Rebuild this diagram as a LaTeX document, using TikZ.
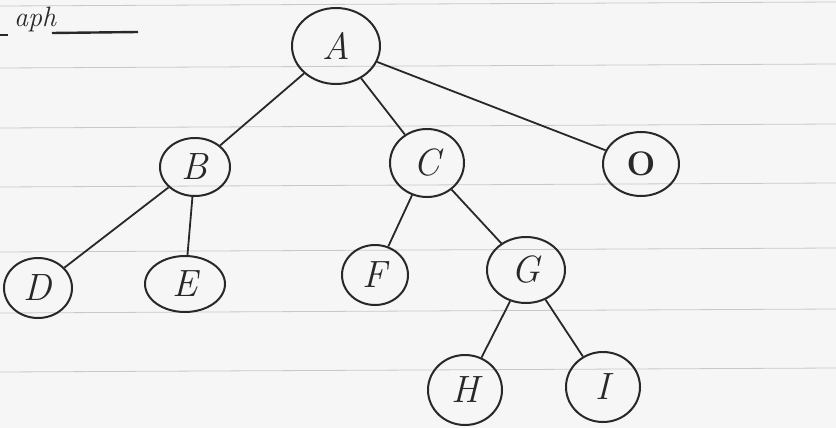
\documentclass[tikz,border=0pt]{standalone}
\usepackage{fontspec}
\usetikzlibrary{shapes.geometric}
\definecolor{paper}{RGB}{246,246,246}
\definecolor{rule}{RGB}{200,200,205}
\definecolor{ink}{RGB}{40,40,40}
\tikzset{
  treenode/.style={ellipse, draw=ink, line width=2pt, inner sep=0pt, font=\fontsize{38}{38}\selectfont\itshape, text=ink},
  edge/.style={draw=ink, line width=1.8pt},
  paperline/.style={draw=rule, line width=0.8pt}
}
\begin{document}
\begin{tikzpicture}[x=1pt,y=-1pt]
\fill[paper] (0,0) rectangle (836,428);
\useasboundingbox (0,0) rectangle (836,428);
% ruled paper lines
\foreach \y in {6,68,128,187,252,313,372} {
  \draw[paperline] (0,\y) -- (836,\y-4);
}
% heading fragment
\node[font=\fontsize{28}{28}\selectfont\itshape, text=ink, anchor=base west, inner sep=0pt] (head) at (14,27) {aph};
\draw[ink, line width=2.4pt] (52,33) -- (138,32);
\draw[ink, line width=2.4pt] (0,35) -- (8,35);
% nodes
\node[treenode, minimum width=88, minimum height=76] (A) at (336,46) {A};
\node[treenode, minimum width=70, minimum height=58] (B) at (195,167) {B};
\node[treenode, minimum width=74, minimum height=68] (C) at (427,163) {C};
\node[treenode, minimum width=76, minimum height=64, font=\fontsize{34}{34}\selectfont\bfseries] (O) at (641,164) {O};
\node[treenode, minimum width=68, minimum height=60] (D) at (38,288) {D};
\node[treenode, minimum width=80, minimum height=56] (E) at (185,284) {E};
\node[treenode, minimum width=66, minimum height=60] (F) at (375,275) {F};
\node[treenode, minimum width=78, minimum height=66] (G) at (526,270) {G};
\node[treenode, minimum width=74, minimum height=70] (H) at (465,390) {H};
\node[treenode, minimum width=74, minimum height=70] (I) at (603,387) {I};
% edges
\draw[edge] (A) -- (B);
\draw[edge] (A) -- (C);
\draw[edge] (A) -- (O);
\draw[edge] (B) -- (D);
\draw[edge] (B) -- (E);
\draw[edge] (C) -- (F);
\draw[edge] (C) -- (G);
\draw[edge] (G) -- (H);
\draw[edge] (G) -- (I);
\end{tikzpicture}
\end{document}
